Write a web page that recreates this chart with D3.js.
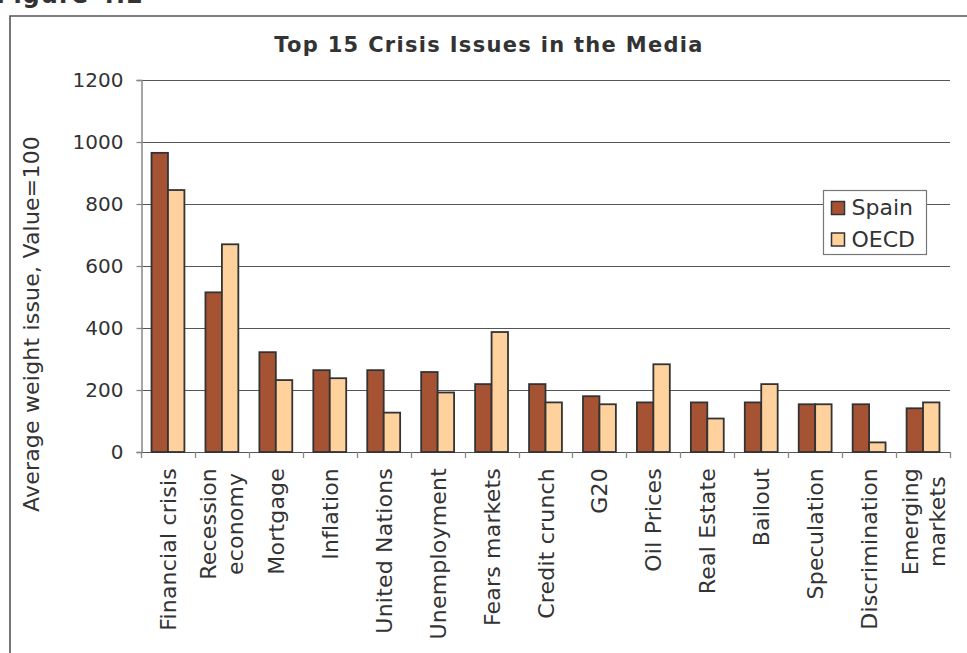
<!DOCTYPE html>
<html>
<head>
<meta charset="utf-8">
<script src="https://cdn.jsdelivr.net/npm/d3@7/dist/d3.min.js"></script>
<style>
  html, body { margin: 0; padding: 0; background: #fff; }
  svg { display: block; font-family: "DejaVu Sans", Verdana, sans-serif; }
</style>
</head>
<body>
<svg id="chart" width="967" height="653"></svg>
<script>
// Top 15 crisis issues: average weight per issue (Value = 100)
const categories = [
  "Financial crisis", "Recession\neconomy", "Mortgage", "Inflation", "United Nations",
  "Unemployment", "Fears markets", "Credit crunch", "G20", "Oil Prices",
  "Real Estate", "Bailout", "Speculation", "Discrimination", "Emerging\nmarkets"
];
const seriesNames = ["Spain", "OECD"];
const spainValues = [965, 515, 322, 264, 264, 258, 219, 219, 180, 160, 160, 160, 154, 154, 141];
const oecdValues  = [845, 670, 232, 238, 127, 192, 387, 160, 154, 283, 108, 219, 154, 31, 160];
const yTicks = [0, 200, 400, 600, 800, 1000, 1200];

const colors = { Spain: "#A65333", OECD: "#FFD19C" };

const svg = d3.select("#chart");
const plot = { left: 141, right: 950, top: 80, bottom: 452 };

// Figure caption, partly above the page edge
svg.append("text")
  .attr("x", -4).attr("y", 3)
  .attr("font-size", 24).attr("font-weight", "bold").attr("fill", "#333")
  .attr("letter-spacing", 1)
  .text("Figure 4.2");

// Chart frame
svg.append("path")
  .attr("d", "M10,660 L10,16 L975,16")
  .attr("fill", "none").attr("stroke", "#555").attr("stroke-width", 1.6);

// Title
svg.append("text")
  .attr("x", 489).attr("y", 52)
  .attr("text-anchor", "middle")
  .attr("font-size", 21).attr("font-weight", "bold").attr("fill", "#333")
  .attr("letter-spacing", 1.3)
  .text("Top 15 Crisis Issues in the Media");

const y = d3.scaleLinear().domain([0, 1200]).range([plot.bottom, plot.top]);
const x0 = d3.scaleBand().domain(categories).range([plot.left, plot.right]).paddingInner(0).paddingOuter(0);
const x1 = d3.scaleBand().domain(seriesNames).range([0, x0.bandwidth()]).paddingInner(0).paddingOuter(0.64);

// Gridlines
svg.append("g")
  .selectAll("line")
  .data(yTicks)
  .join("line")
  .attr("x1", plot.left).attr("x2", plot.right)
  .attr("y1", d => Math.round(y(d)) + 0.5).attr("y2", d => Math.round(y(d)) + 0.5)
  .attr("stroke", "#555").attr("stroke-width", 1.2);

// Y axis
const yAxis = svg.append("g")
  .attr("transform", `translate(${plot.left + 0.5},0)`)
  .call(d3.axisLeft(y).tickValues(yTicks).tickSize(5).tickPadding(13).tickFormat(d3.format("d")));
yAxis.select(".domain").attr("stroke", "#888").attr("stroke-width", 1.5);
yAxis.selectAll(".tick line").attr("stroke", "#888").attr("stroke-width", 1.3);
yAxis.selectAll(".tick text")
  .attr("font-size", 20).attr("fill", "#333")
  .attr("font-family", "DejaVu Sans, Verdana, sans-serif");

// X axis ticks at category boundaries
const boundaries = categories.map(c => x0(c)).concat([plot.right]);
svg.append("g")
  .selectAll("line")
  .data(boundaries)
  .join("line")
  .attr("x1", d => Math.round(d) + 0.5).attr("x2", d => Math.round(d) + 0.5)
  .attr("y1", plot.bottom).attr("y2", plot.bottom + 6)
  .attr("stroke", "#888").attr("stroke-width", 1.3);

// Bars
const rows = categories.map((c, i) => ({ category: c, Spain: spainValues[i], OECD: oecdValues[i] }));
const groups = svg.append("g")
  .selectAll("g")
  .data(rows)
  .join("g")
  .attr("transform", d => `translate(${x0(d.category)},0)`);
groups.selectAll("rect")
  .data(d => seriesNames.map(s => ({ key: s, value: d[s] })))
  .join("rect")
  .attr("x", d => x1(d.key))
  .attr("width", x1.bandwidth())
  .attr("y", d => y(d.value))
  .attr("height", d => y(0) - y(d.value))
  .attr("fill", d => colors[d.key])
  .attr("stroke", "#333").attr("stroke-width", 1.8);

// Category labels, rotated, multi-line labels centred on each other
const labelTop = 468;
const lineGap = 27;
const labels = svg.append("g");
categories.forEach(c => {
  const lines = c.split("\n");
  const cx = x0(c) + x0.bandwidth() / 2;
  const g = labels.append("g");
  const texts = lines.map(ln => g.append("text")
    .attr("font-size", 22).attr("fill", "#333")
    .attr("letter-spacing", 0.2)
    .attr("text-anchor", "middle")
    .text(ln));
  const maxLen = d3.max(texts, t => t.node().getComputedTextLength());
  const mid = labelTop + maxLen / 2;
  texts.forEach((t, j) => {
    const base = cx + 8 + (j - (lines.length - 1) / 2) * lineGap;
    t.attr("transform", `translate(${base},${mid}) rotate(-90)`);
  });
});

// Y axis title
svg.append("text")
  .attr("transform", "translate(39,324) rotate(-90)")
  .attr("text-anchor", "middle")
  .attr("font-size", 22).attr("fill", "#333")
  .attr("letter-spacing", 0.2)
  .text("Average weight issue, Value=100");

// Legend
const legend = svg.append("g").attr("transform", "translate(823.5,190.5)");
legend.append("rect")
  .attr("width", 103).attr("height", 64)
  .attr("fill", "#fff").attr("stroke", "#777").attr("stroke-width", 1.2);
seriesNames.forEach((s, i) => {
  const row = legend.append("g").attr("transform", `translate(8,${11 + i * 31.5})`);
  row.append("rect")
    .attr("width", 13).attr("height", 13)
    .attr("fill", colors[s]).attr("stroke", "#333").attr("stroke-width", 1.5);
  row.append("text")
    .attr("x", 20).attr("y", 13.5)
    .attr("font-size", 22).attr("fill", "#333")
    .text(s);
});
</script>
</body>
</html>
